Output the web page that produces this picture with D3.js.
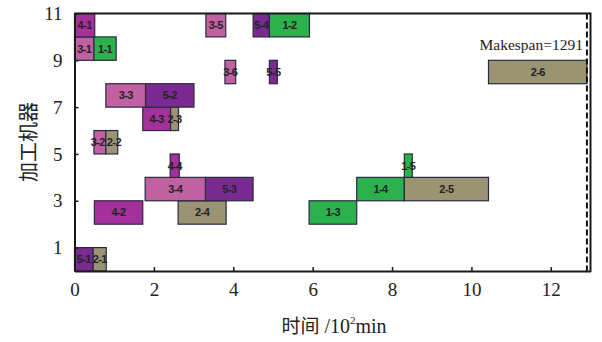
<!DOCTYPE html>
<html><head><meta charset="utf-8">
<script src="https://cdn.jsdelivr.net/npm/d3@7"></script>
<style>body{margin:0;background:#fff}svg{display:block}</style>
</head><body>
<svg id="c" width="602" height="342"></svg>
<script>
const labels = ["5-1","2-1","4-2","2-4","1-3","3-4","5-3","1-4","2-5","4-4","1-5","3-2","2-2","4-3","2-3","3-3","5-2","3-6","5-5","2-6","3-1","1-1","4-1","3-5","5-4","1-2"];
const machines = [1,1,3,3,3,4,4,4,4,5,5,6,6,7,7,8,8,9,9,9,10,10,11,11,11,11];
const starts = [0,0.47,0.50,2.61,5.91,1.78,3.30,7.11,8.31,2.41,8.31,0.49,0.79,1.72,2.42,0.79,1.79,3.79,4.91,10.43,0,0.49,0,3.31,4.50,4.91];
const ends = [0.47,0.80,1.72,3.82,7.11,3.30,4.50,8.31,10.43,2.64,8.51,0.79,1.09,2.42,2.62,1.79,3.01,4.06,5.11,12.91,0.49,1.05,0.51,3.81,4.91,5.92];
const xTicks = [0,2,4,6,8,10,12];
const yTicks = [1,3,5,7,9,11];
const makespan = 12.91;
const jobColors = {"1":"#2bb24c","2":"#9a9473","3":"#c261a1","4":"#a4319b","5":"#7b2b90"};

const svg = d3.select("#c");
const x = d3.scaleLinear().domain([0,13]).range([74.5,590.5]);
const y = d3.scaleLinear().domain([0,11]).range([271,13.5]);

const data = labels.map((l,i)=>({l, m:machines[i], s:starts[i], e:ends[i]}));

const g = svg.append("g");
g.selectAll("rect.bar").data(data).enter().append("rect")
  .attr("class","bar")
  .attr("x",d=>x(d.s)).attr("width",d=>x(d.e)-x(d.s))
  .attr("y",d=>y(d.m)).attr("height",d=>y(d.m-1)-y(d.m))
  .attr("fill",d=>jobColors[d.l[0]])
  .attr("stroke","#2a2a40").attr("stroke-width",1.2);
const labs = g.selectAll("text.lab").data(data).enter().append("text")
  .attr("class","lab")
  .attr("x",d=>(x(d.s)+x(d.e))/2).attr("y",d=>y(d.m-0.5)+4)
  .attr("text-anchor","middle")
  .attr("font-family","Liberation Sans, Arial, sans-serif")
  .attr("font-weight","bold").attr("font-size",11).attr("letter-spacing",-0.6)
  .attr("fill","#222228").text(d=>d.l);

// push apart touching labels in the same row
labs.each(function(d){ d.cx = (x(d.s)+x(d.e))/2; d.w = this.getComputedTextLength(); d.node = this; });
d3.groups(data, d=>d.m).forEach(([m, arr])=>{
  arr.sort((a,b)=>a.cx-b.cx);
  for (let i=1;i<arr.length;i++){
    const a=arr[i-1], b=arr[i];
    const gap = (b.cx - b.w/2) - (a.cx + a.w/2);
    if (gap < 2) {
      const sh = (2 - gap)/2;
      a.cx -= sh; b.cx += sh;
    }
  }
  arr.forEach(d=>d3.select(d.node).attr("x", d.cx));
});

// makespan dashed line
svg.append("line").attr("x1",x(makespan)).attr("x2",x(makespan))
  .attr("y1",y(11)).attr("y2",y(0))
  .attr("stroke","#111").attr("stroke-width",2).attr("stroke-dasharray","6,3");
svg.append("text").attr("x",x(makespan)-4).attr("y",50)
  .attr("text-anchor","end").attr("font-family","Liberation Serif, Times New Roman, serif")
  .attr("font-size",15.5).attr("fill","#222").text("Makespan=1291");

// axes
const xAxis = d3.axisBottom(x).tickValues(xTicks).tickSize(-4).tickPadding(12).tickSizeOuter(0);
const yAxis = d3.axisLeft(y).tickValues(yTicks).tickSize(-4).tickPadding(12).tickSizeOuter(0);
const gx = svg.append("g").attr("transform",`translate(0,${y(0)})`).call(xAxis);
const gy = svg.append("g").attr("transform",`translate(${x(0)},0)`).call(yAxis);
[gx,gy].forEach(a=>{
  a.select(".domain").attr("stroke","#1a1a1a").attr("stroke-width",2);
  a.selectAll(".tick line").attr("stroke","#1a1a1a").attr("stroke-width",1.5);
  a.selectAll(".tick text").attr("font-family","Liberation Serif, Times New Roman, serif")
    .attr("font-size",19).attr("fill","#222");
});
gx.selectAll(".tick text").attr("dy","0.71em");
// top and right borders
svg.append("line").attr("x1",x(0)).attr("x2",x(13)).attr("y1",y(11)).attr("y2",y(11)).attr("stroke","#1a1a1a").attr("stroke-width",2);
svg.append("line").attr("x1",x(13)).attr("x2",x(13)).attr("y1",y(11)-1).attr("y2",y(0)+1).attr("stroke","#1a1a1a").attr("stroke-width",2);

// axis titles
const xt = svg.append("text").attr("x",334).attr("y",333).attr("text-anchor","middle")
  .attr("font-family","Liberation Serif, Times New Roman, serif").attr("font-size",20).attr("fill","#222");
xt.append("tspan").attr("font-family","Noto Sans CJK SC").attr("font-size",19).text("时间");
xt.append("tspan").text(" /10");
xt.append("tspan").attr("font-size",11).attr("dy",-9).text("2");
xt.append("tspan").attr("dy",9).text("min");
svg.append("text").attr("transform","translate(36,142) rotate(-90)").attr("text-anchor","middle")
  .attr("font-family","Noto Sans CJK SC").attr("font-size",20).attr("fill","#222").text("加工机器");
</script>
</body></html>
